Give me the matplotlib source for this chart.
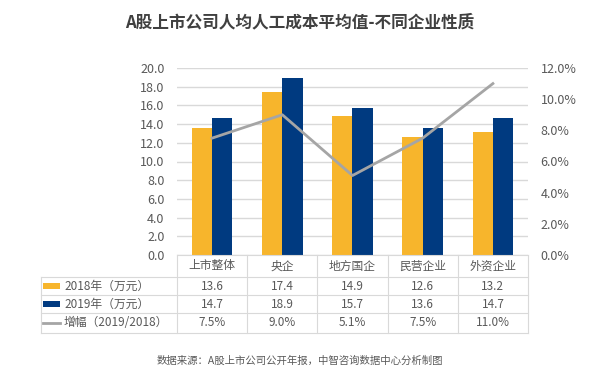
import numpy as np
import matplotlib
matplotlib.use('Agg')
import matplotlib.pyplot as plt
from matplotlib.ticker import FuncFormatter, MultipleLocator
from matplotlib.lines import Line2D
from matplotlib.patches import Rectangle

plt.rcParams['font.family'] = ['Noto Sans CJK SC', 'DejaVu Sans']

categories = ['上市整体', '央企', '地方国企', '民营企业', '外资企业']
cost2018 = [13.6, 17.4, 14.9, 12.6, 13.2]
cost2019 = [14.7, 18.9, 15.7, 13.6, 14.7]
growth = [7.5, 9.0, 5.1, 7.5, 11.0]
row_labels = ['2018年（万元）', '2019年（万元）', '增幅（2019/2018）']

yellow = '#F7B52C'
blue = '#003A80'
grey = '#A5A5A5'
txt = '#595959'
gridc = '#D9D9D9'

W, H = 600, 384
fig = plt.figure(figsize=(6, 3.84), dpi=100)
# plot area in pixels
L, R, T, B = 177, 528, 68, 255
ax = fig.add_axes([L / W, 1 - B / H, (R - L) / W, (B - T) / H])

x = np.arange(len(categories))
bw = 0.29
ax.bar(x - bw / 2, cost2018, bw, color=yellow, zorder=3)
ax.bar(x + bw / 2, cost2019, bw, color=blue, zorder=3)
ax.set_xlim(-0.5, len(categories) - 0.5)
ax.set_ylim(0, 20)
ax.yaxis.set_major_locator(MultipleLocator(2))
ax.yaxis.set_major_formatter(FuncFormatter(lambda v, p: '%.1f' % v))
ax.grid(axis='y', color=gridc, linewidth=1, zorder=0)
ax.set_xticks([])
for s in ax.spines.values():
    s.set_visible(False)
ax.tick_params(axis='y', length=0, pad=9, labelsize=9, labelcolor=txt)

ax2 = ax.twinx()
ax2.plot(x, np.array(growth) / 100, color=grey, linewidth=2, zorder=4)
ax2.set_ylim(0, 0.12)
ax2.yaxis.set_major_locator(MultipleLocator(0.02))
ax2.yaxis.set_major_formatter(FuncFormatter(lambda v, p: '%.1f%%' % (v * 100)))
for s in ax2.spines.values():
    s.set_visible(False)
ax2.tick_params(axis='y', length=0, pad=9, labelsize=9, labelcolor=txt)

# table below the axes, drawn in figure pixel coordinates
def fx(px):
    return px / W

def fy(py):
    return 1 - py / H

tl = 41
col_w = (R - L) / len(categories)
rows_y = [B, 277, 295, 313, 333]
lw = 0.8
# horizontal lines
fig.add_artist(Line2D([fx(L), fx(R)], [fy(B), fy(B)], color=gridc, lw=lw))
for yy in rows_y[1:]:
    fig.add_artist(Line2D([fx(tl), fx(R)], [fy(yy), fy(yy)], color=gridc, lw=lw))
# vertical lines
for k in range(len(categories) + 1):
    xx = L + k * col_w
    fig.add_artist(Line2D([fx(xx), fx(xx)], [fy(B), fy(rows_y[-1])], color=gridc, lw=lw))
fig.add_artist(Line2D([fx(tl), fx(tl)], [fy(rows_y[1]), fy(rows_y[-1])], color=gridc, lw=lw))

# header row
hy = (rows_y[0] + rows_y[1]) / 2
for k, c in enumerate(categories):
    fig.text(fx(L + (k + 0.5) * col_w), fy(hy), c, ha='center', va='center',
             fontsize=8.5, color=txt)

values = [['%.1f' % v for v in cost2018],
          ['%.1f' % v for v in cost2019],
          ['%.1f%%' % v for v in growth]]
for r in range(3):
    cy = (rows_y[r + 1] + rows_y[r + 2]) / 2
    for k in range(len(categories)):
        fig.text(fx(L + (k + 0.5) * col_w), fy(cy), values[r][k], ha='center',
                 va='center', fontsize=8.5, color=txt)
    fig.text(fx(64), fy(cy), row_labels[r], ha='left', va='center',
             fontsize=8.5, color=txt)
    if r < 2:
        fig.add_artist(Rectangle((fx(43), fy(cy + 3)), fx(17), 6 / H,
                                 color=[yellow, blue][r], lw=0))
    else:
        fig.add_artist(Line2D([fx(43), fx(60)], [fy(cy), fy(cy)], color=grey, lw=2))

fig.text(0.5, fy(22), 'A股上市公司人均人工成本平均值-不同企业性质', ha='center',
         va='center', fontsize=12, fontweight='bold', color='#404040')
fig.text(0.5, fy(361), '数据来源：A股上市公司公开年报，中智咨询数据中心分析制图',
         ha='center', va='center', fontsize=7.5, color=txt)

fig.savefig('out.png', dpi=100)
